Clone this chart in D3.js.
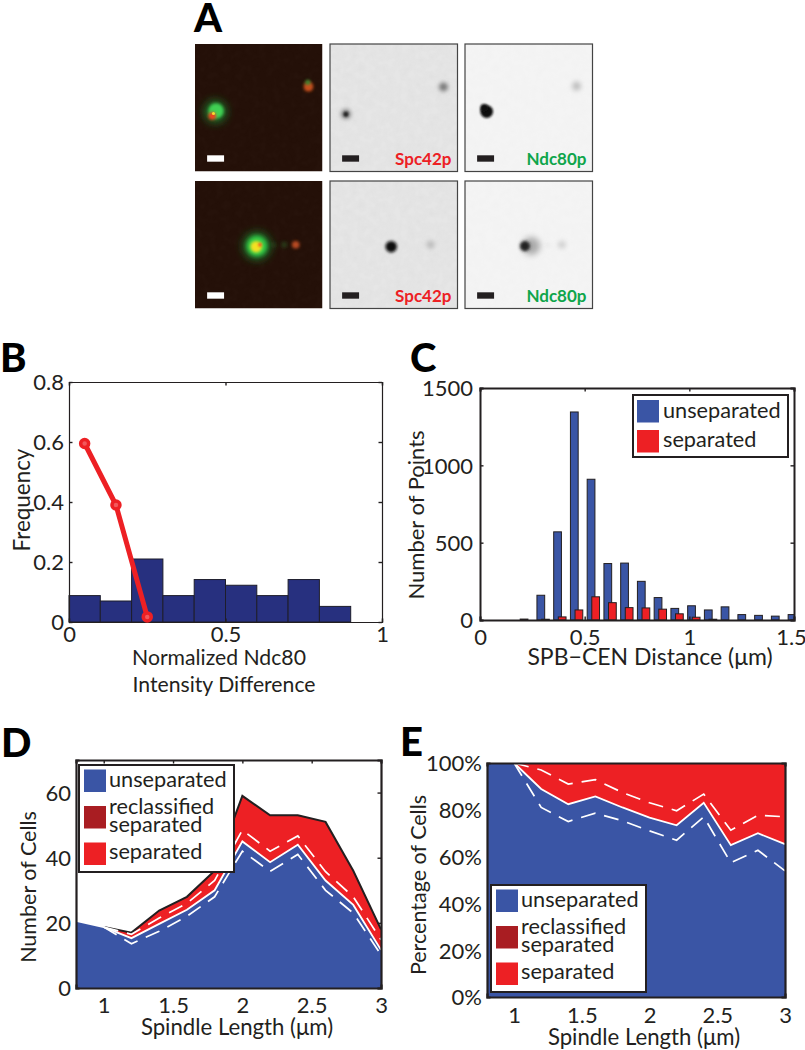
<!DOCTYPE html>
<html><head><meta charset="utf-8">
<script src="https://cdn.jsdelivr.net/npm/d3@7"></script>
<style>
html,body{margin:0;padding:0;background:#fff}
svg{display:block}
text{font-family:Lato,"Open Sans",sans-serif;fill:#231f20}
</style></head><body>
<svg id="c" width="805" height="1050"></svg>
<script>
// Panel B
const bBins=[0.05,0.15,0.25,0.35,0.45,0.55,0.65,0.75,0.85];
const bFreq=[0.088,0.07,0.21,0.088,0.1415,0.1225,0.088,0.1415,0.052];
const bLineX=[0.05,0.15,0.25];
const bLineY=[0.595,0.39,0.017];
// Panel C
const cBins=[0.2215,0.3015,0.3815,0.4615,0.5415,0.6215,0.7015,0.7815,0.8615,0.9415,1.0215,1.1015,1.1815,1.2615,1.3415,1.4215,1.5015];
const cUnsep=[6,160,570,1345,910,365,368,250,145,75,92,65,85,35,30,25,35];
const cSep=[0,5,20,65,150,112,80,78,70,40,18,5,0,0,0,0,0];
// Panels D, E
const lengths=[0.8,1,1.2,1.4,1.6,1.8,2,2.2,2.4,2.6,2.8,3];
const dUnsep=[20.6,18.7,15.3,19.7,24,30,45,38.6,44,33,25.5,11.7];
const dTotal=[20.6,18.7,17,23.8,28,36,59,53,53,51,36,18];
const dDashHi=[20.6,18.7,16.5,21.5,26,33,48.5,42,46.7,35.7,28,14.8];
const dDashLo=[20.6,18.7,13.6,17.4,22,28,42,35.8,41,30,23,10.2];
const ePct=[100,100,88.9,82.4,85.7,81,76.7,73.4,83,64.9,70,65.3];
const eDashHi=[100,100,97,91,92.9,87.4,83,79.6,86.7,71.3,77.7,77];
const eDashLo=[100,100,81,75,78.6,75.3,71,67,77,57.4,62.7,53.9];
// Legends and labels
const legendC=["unseparated","separated"];
const legendDE=["unseparated",["reclassified","separated"],"separated"];
// Panel A micrograph spots: [column, row, u, v, radius, blur, colour]
const spots=[
 [0,0,.16,.53,.09,4,"#1f6b25"],[0,0,.165,.525,.06,1.6,"#3fd052"],[0,0,.135,.565,.03,1.5,"#f0401c"],[0,0,.145,.545,.012,.7,"#f4e030"],[0,0,.89,.335,.038,1.5,"#c8501a"],[0,0,.885,.3,.02,1.5,"#3a8a30"],
 [0,1,.485,.51,.11,4,"#1f6b25"],[0,1,.485,.51,.08,2,"#35d048"],[0,1,.48,.515,.045,1.5,"#f4e020"],[0,1,.51,.5,.015,1,"#f06020"],[0,1,.79,.5,.03,1.5,"#b84a20"],[0,1,.62,.5,.012,2,"#2f7a30"],[0,1,.7,.5,.016,2,"#2f7a30"],
 [1,0,.125,.55,.04,2.2,"#8a8a8a"],[1,0,.125,.55,.02,1,"#222"],[1,0,.89,.337,.035,2,"#777"],
 [1,1,.48,.515,.045,1.4,"#111"],[1,1,.79,.5,.03,2.5,"#b4b4b4"],
 [2,0,.17,.53,.05,1.3,"#111"],[2,0,.15,.5,.03,1,"#111"],[2,0,.875,.33,.035,2.5,"#bbb"],
 [2,1,.52,.51,.07,3,"#aaa"],[2,1,.47,.51,.04,1.6,"#222"],[2,1,.76,.5,.03,2.5,"#ccc"],[2,1,.65,.5,.014,2.2,"#ddd"]
];
const channelBg=["#241008","#e6e6e6","#f4f4f4"];
const channelLabels=[null,"Spc42p","Ndc80p"];
const channelColors=[null,"#ed2024","#0fa54b"];
const panelLetters=["A","B","C","D","E"];

const svg=d3.select("#c");
const BLUE="#3a55a5",RED="#ed2024",DARK="#a91d22",NAVY="#27307f";
const defs=svg.append("defs");
[.7,1,1.3,1.4,1.5,1.6,2,2.2,2.5,3,4].forEach(b=>defs.append("filter").attr("id","b"+String(b).replace(".","_"))
  .attr("x","-100%").attr("y","-100%").attr("width","300%").attr("height","300%")
  .append("feGaussianBlur").attr("stdDeviation",b));
const noise=defs.append("filter").attr("id","noise").attr("x",0).attr("y",0).attr("width","100%").attr("height","100%");
noise.append("feTurbulence").attr("type","fractalNoise").attr("baseFrequency",.14).attr("numOctaves",2).attr("seed",4);
noise.append("feColorMatrix").attr("values","0 0 0 0 .45  0 0 0 0 .45  0 0 0 0 .45  .28 0 0 0 -.08");

// Panel A
const colX=[195,330,465],rowY=[44,181],PW=127.5;
const uS=d3.scaleLinear().domain([0,1]).range([0,PW]);
const gA=svg.append("g");
rowY.forEach((y,r)=>colX.forEach((x,c)=>{
  const g=gA.append("g").attr("transform",`translate(${x},${y})`);
  const cid=`cp${r}${c}`;
  defs.append("clipPath").attr("id",cid).append("rect").attr("width",PW).attr("height",PW);
  const inner=g.append("g").attr("clip-path",`url(#${cid})`);
  inner.append("rect").attr("width",PW).attr("height",PW).attr("fill",channelBg[c]);
  inner.append("rect").attr("width",PW).attr("height",PW).attr("filter","url(#noise)").attr("opacity",c==2?.15:c==0?.15:.5);
  inner.selectAll("circle.s").data(spots.filter(s=>s[0]===c&&s[1]===r)).join("circle")
    .attr("cx",d=>uS(d[2])).attr("cy",d=>uS(d[3])).attr("r",d=>uS(d[4])).attr("fill",d=>d[6])
    .attr("filter",d=>`url(#b${String(d[5]).replace(".","_")})`);
  g.append("rect").attr("x",uS(.095)).attr("y",uS(.873)).attr("width",uS(.133)).attr("height",uS(.05))
    .attr("fill",c==0?"#fff":"#231f20");
  if(c>0){
    g.append("rect").attr("width",PW).attr("height",PW).attr("fill","none").attr("stroke","#444").attr("stroke-width",1.2);
    g.append("text").attr("x",PW-6).attr("y",PW-7).attr("text-anchor","end").attr("font-size",17).attr("font-weight",700)
      .style("fill",channelColors[c]).text(channelLabels[c]);
  }
}));

// Shared axis frame
function frame(g,x,y,xt,yt,xf,yf,sw,o){
  const W=x.range()[1],H=y.range()[0];
  const ax=(gen,tr,vals,fmt,hide)=>{
    const a=g.append("g").attr("transform",tr).call(gen.tickValues(vals).tickSize(-3.5).tickFormat(fmt||""));
    a.select(".domain").attr("stroke","#231f20").attr("stroke-width",sw);
    a.selectAll(".tick line").attr("stroke","#231f20").attr("stroke-width",1.4).attr("opacity",hide?0:1);
    a.selectAll("text").attr("font-size",o.fs).style("font-family","Lato,'Open Sans',sans-serif").style("fill","#231f20");
    return a;
  };
  const b=ax(d3.axisBottom(x),`translate(0,${H})`,xt,xf,o.hideInner);
  b.selectAll("text").attr("dy",0).attr("y",o.xty);
  if(o.lastDx) b.selectAll(".tick:last-of-type text").attr("x",o.lastDx);
  ax(d3.axisTop(x),`translate(0,0)`,xt,null,o.hideOuter);
  const l=ax(d3.axisLeft(y),`translate(0,0)`,yt,yf,o.hideInner);
  l.selectAll("text").attr("x",o.ytx).attr("dy","0.36em");
  ax(d3.axisRight(y),`translate(${W},0)`,yt,null,o.hideOuter);
}
function ylab(g,t,x,y,fs){g.append("text").attr("transform",`translate(${x},${y}) rotate(-90)`).attr("text-anchor","middle").attr("font-size",fs).text(t);}
function xlab(g,t,x,y,fs){g.append("text").attr("x",x).attr("y",y).attr("text-anchor","middle").attr("font-size",fs).text(t);}
const FS=22,LFS=21.7;

// Panel B
{
 const g=svg.append("g").attr("transform","translate(69,382)");
 const x=d3.scaleLinear().domain([0,1]).range([0,313]);
 const y=d3.scaleLinear().domain([0,.8]).range([240,0]);
 const bw=x(.1)-x(0);
 g.selectAll("rect.bar").data(bBins).join("rect").attr("x",d=>x(d)-bw/2).attr("width",bw)
  .attr("y",(d,i)=>y(bFreq[i])).attr("height",(d,i)=>y(0)-y(bFreq[i]))
  .attr("fill",NAVY).attr("stroke","#1d1d2b").attr("stroke-width",1);
 frame(g,x,y,[0,.5,1],[0,.2,.4,.6,.8],d=>d3.format("~g")(d),d=>d3.format("~g")(d),1.2,{fs:FS,xty:20,ytx:-5});
 const line=d3.line().x(d=>x(d[0])).y(d=>y(d[1]));
 const pts=bLineX.map((d,i)=>[d,bLineY[i]]);
 g.append("path").attr("d",line(pts)).attr("fill","none").attr("stroke",RED).attr("stroke-width",5);
 g.selectAll("circle.m").data(pts).join("circle").attr("cx",d=>x(d[0])).attr("cy",d=>y(d[1])).attr("r",4)
  .attr("fill","#f2585c").attr("stroke",RED).attr("stroke-width",3.5);
 xlab(g,"Normalized Ndc80",150,283,21.2);
 xlab(g,"Intensity Difference",155,310,21.2);
 ylab(g,"Frequency",-39,118,22.4);
}

// Panel C
{
 const g=svg.append("g").attr("transform","translate(480,388)");
 const x=d3.scaleLinear().domain([0,1.5]).range([0,314]);
 const y=d3.scaleLinear().domain([0,1500]).range([232,0]);
 const off=.011,bw=x(.037)-x(0);
 defs.append("clipPath").attr("id","clipC").append("rect").attr("width",314).attr("height",232);
 const b=g.append("g").attr("clip-path","url(#clipC)");
 b.selectAll("rect.u").data(cBins).join("rect").attr("x",d=>x(d-off)-bw/2).attr("width",bw)
  .attr("y",(d,i)=>y(cUnsep[i])).attr("height",(d,i)=>y(0)-y(cUnsep[i])).attr("fill",BLUE).attr("stroke","#231f20").attr("stroke-width",1);
 b.selectAll("rect.r").data(cBins).join("rect").attr("x",d=>x(d+off)-bw/2).attr("width",bw)
  .attr("y",(d,i)=>y(cSep[i])).attr("height",(d,i)=>y(0)-y(cSep[i])).attr("fill",RED).attr("stroke","#231f20").attr("stroke-width",1);
 frame(g,x,y,[0,.5,1,1.5],[0,500,1000,1500],d=>d3.format("~g")(d),d=>d3.format("d")(d),2,{fs:FS,xty:25,ytx:-7,lastDx:-3});
 const lg=g.append("g").attr("transform","translate(153,7)");
 lg.append("rect").attr("width",155).attr("height",62).attr("fill","#fff").attr("stroke","#231f20").attr("stroke-width",2);
 legendC.forEach((t,i)=>{
  lg.append("rect").attr("x",4).attr("y",5+i*30).attr("width",22).attr("height",22.5).attr("fill",i?RED:BLUE);
  lg.append("text").attr("x",30).attr("y",23+i*29).attr("font-size",LFS).text(t);
 });
 xlab(g,"SPB−CEN Distance (μm)",170,277,23);
 ylab(g,"Number of Points",-56,127,22);
}

// Stacked panels
function stacked(tx,ty,w,h,ymax,yt,yf,lower,upper,hi,lo,opts){
 const g=svg.append("g").attr("transform",`translate(${tx},${ty})`);
 const x=d3.scaleLinear().domain([.8,3]).range([0,w]);
 const y=d3.scaleLinear().domain([0,ymax]).range([h,0]);
 const A=(a,b)=>d3.area().x((d,i)=>x(lengths[i])).y0((d,i)=>y(a[i])).y1((d,i)=>y(b[i]))(lengths);
 const L=a=>d3.line().x((d,i)=>x(lengths[i])).y((d,i)=>y(a[i]))(lengths);
 const zero=lengths.map(()=>0);
 g.append("path").attr("d",A(lower,upper)).attr("fill",RED);
 g.append("path").attr("d",A(zero,lower)).attr("fill",BLUE);
 const idx=lengths.map((d,i)=>i).filter(i=>i>=1);
 if(opts.topLine){
  g.append("path").attr("d",d3.line().x(i=>x(lengths[i])).y(i=>y(upper[i]))(idx)).attr("fill","none").attr("stroke","#231f20").attr("stroke-width",2);
 }
 g.append("path").attr("d",L(lower)).attr("fill","none").attr("stroke","#fff").attr("stroke-width",1.8);
 [hi,lo].forEach(a=>{
  g.append("path").attr("d",d3.line().x(i=>x(lengths[i])).y(i=>y(a[i]))(idx)).attr("fill","none").attr("stroke","#fff").attr("stroke-width",1.7).attr("stroke-dasharray","15 9");
 });
 frame(g,x,y,[1,1.5,2,2.5,3],yt,d=>d3.format("~g")(d),yf,2.2,{fs:FS,xty:opts.xty,ytx:opts.ytx,hideInner:true,hideOuter:opts.hideOuter});
 const lg=g.append("g").attr("transform",`translate(${opts.lx},${opts.ly})`);
 lg.append("rect").attr("width",155).attr("height",107).attr("fill","#fff").attr("stroke","#231f20").attr("stroke-width",2);
 legendDE.forEach((t,i)=>{
  lg.append("rect").attr("x",5).attr("y",4.5+i*36.5).attr("width",22).attr("height",22.5).attr("fill",[BLUE,DARK,RED][i]);
  if(Array.isArray(t)){
    lg.append("text").attr("x",30).attr("y",49).attr("font-size",LFS).text(t[0]);
    lg.append("text").attr("x",30).attr("y",67).attr("font-size",LFS).text(t[1]);
  } else lg.append("text").attr("x",30).attr("y",i?94:22).attr("font-size",LFS).text(t);
 });
 xlab(g,"Spindle Length (μm)",opts.xlx,opts.xly,22.2);
 ylab(g,opts.yl,opts.ylx,opts.yly,opts.ylfs);
}
stacked(76,760,305,228,70,[0,20,40,60],d=>d3.format("d")(d),dUnsep,dTotal,dDashHi,dDashLo,
 {topLine:true,xty:25,ytx:-5,lx:3,ly:5,xlx:161,xly:275,yl:"Number of Cells",ylx:-40,yly:127,ylfs:21.5});
stacked(487,763,298,234,100,[0,20,40,60,80,100],d=>d+"%",ePct,ePct.map(()=>100),eDashHi,eDashLo,
 {topLine:false,hideOuter:true,xty:26,ytx:-5,lx:4,ly:122,xlx:157,xly:282,yl:"Percentage of Cells",ylx:-61,yly:122,ylfs:21.5});

// Panel letters
const letterPos=[[194,32],[0,372],[410,372],[1,757],[400,756]];
svg.selectAll("text.letter").data(panelLetters).join("text").attr("class","letter")
 .attr("x",(d,i)=>letterPos[i][0]).attr("y",(d,i)=>letterPos[i][1])
 .attr("font-size",40).attr("font-weight",900).style("fill","#000").text(d=>d);
</script></body></html>
